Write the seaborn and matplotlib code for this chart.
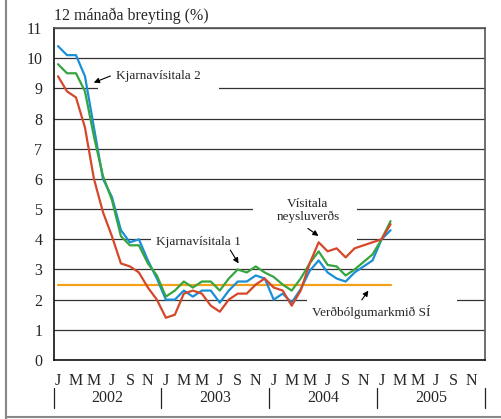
import numpy as np
import pandas as pd
import seaborn as sns
import matplotlib.pyplot as plt
from matplotlib.lines import Line2D
from matplotlib.patches import Rectangle
from matplotlib.transforms import blended_transform_factory

# ---------------------------------------------
# DATA (12 month change, %, Jan 2002 - Feb 2005)
# ---------------------------------------------
kjarna2 = [10.4, 10.1, 10.1, 9.4, 7.7, 6.0, 5.4, 4.3, 3.9, 4.0, 3.3, 2.7,
           2.0, 2.0, 2.3, 2.1, 2.3, 2.3, 1.9, 2.3, 2.6, 2.6, 2.8, 2.7,
           2.0, 2.2, 1.9, 2.35, 2.95, 3.3, 2.9, 2.7, 2.6, 2.9, 3.1, 3.3,
           4.0, 4.3]
kjarna1 = [9.8, 9.5, 9.5, 8.9, 7.4, 6.1, 5.3, 4.1, 3.8, 3.8, 3.2, 2.8,
           2.1, 2.3, 2.6, 2.4, 2.6, 2.6, 2.3, 2.7, 3.0, 2.9, 3.1, 2.9,
           2.75, 2.5, 2.3, 2.7, 3.2, 3.6, 3.15, 3.1, 2.8, 3.0, 3.25, 3.5,
           4.0, 4.6]
neysluverd = [9.4, 8.9, 8.7, 7.7, 6.0, 4.9, 4.1, 3.2, 3.1, 2.9, 2.4, 2.0,
              1.4, 1.5, 2.2, 2.3, 2.2, 1.8, 1.6, 2.0, 2.2, 2.2, 2.5, 2.7,
              2.4, 2.3, 1.8, 2.3, 3.2, 3.9, 3.6, 3.7, 3.4, 3.7, 3.8, 3.9,
              4.0, 4.5]
markmid = 2.5

man_stafir = ["J", "F", "M", "A", "M", "J", "J", "A", "S", "O", "N", "D"]
ar = ["2002", "2003", "2004", "2005"]

n = len(kjarna2)
df = pd.DataFrame({
    "man": np.arange(n),
    "k2": kjarna2,
    "k1": kjarna1,
    "vnv": neysluverd,
    "mark": [markmid] * n,
})

# ---------------------------------------------
# PLOT
# ---------------------------------------------
sns.set_style("white")
plt.rcParams["font.family"] = ["Liberation Serif", "DejaVu Serif"]

fig = plt.figure(figsize=(5.02, 4.19), dpi=100)
ax = fig.add_axes([0.1066, 0.1408, 0.8594, 0.7924])

lw = 1.6
sns.lineplot(data=df, x="man", y="mark", color="#f5a01a", lw=lw, ax=ax, zorder=3)
sns.lineplot(data=df, x="man", y="k2", color="#1a8fd6", lw=lw, ax=ax, zorder=4)
sns.lineplot(data=df, x="man", y="k1", color="#36a540", lw=lw, ax=ax, zorder=5)
sns.lineplot(data=df, x="man", y="vnv", color="#d5472a", lw=lw, ax=ax, zorder=6)

ax.set_xlim(-0.5, 47.5)
ax.set_ylim(0, 11)
ax.set_xlabel("")
ax.set_ylabel("")

# gridlines
ax.set_axisbelow(True)
ax.set_yticks(range(0, 12))
ax.yaxis.grid(True, color="#333333", lw=0.9)
ax.xaxis.grid(False)

# white gaps in the gridlines behind the labels
for x0, x1, yy in [(4.4, 17.9, 9), (10.3, 33.3, 4), (21.7, 33.3, 5), (27.7, 44.4, 2)]:
    ax.add_patch(Rectangle((x0, yy - 0.1), x1 - x0, 0.2, fc="white", ec="none", zorder=1.5))

# x ticks: every month, letters every other month
xt = list(range(48))
xl = [man_stafir[i % 12] if i % 2 == 0 else "" for i in xt]
ax.set_xticks(xt)
ax.set_xticklabels(xl, fontsize=11.5)
ax.tick_params(axis="x", direction="out", length=4, width=0.8, pad=5, color="#333333")
ax.tick_params(axis="y", direction="out", length=7, width=0.9, pad=1, labelsize=11.5,
               color="#333333")

for s in ["left", "bottom"]:
    ax.spines[s].set_color("#111111")
    ax.spines[s].set_linewidth(1.2)
for s in ["top", "right"]:
    ax.spines[s].set_color("#555555")
    ax.spines[s].set_linewidth(1.2)

# year labels and separators
tr = blended_transform_factory(ax.transData, ax.transAxes)
for k, a in enumerate(ar):
    ax.text(k * 12 + 5.5, -0.115, a, transform=tr, ha="center", va="center",
            fontsize=11.5, clip_on=False)
for k in range(5):
    ax.add_line(Line2D([k * 12 - 0.5, k * 12 - 0.5], [-0.084, -0.145], transform=tr,
                       color="#222222", lw=0.9, clip_on=False))

# title on top of axis
fig.text(0.108, 0.962, "12 mánaða breyting (%)", fontsize=11.5, ha="left", va="center")

# labels
fs = 9.5
ax.text(6.4, 9.41, "Kjarnavísitala 2", ha="left", va="center", fontsize=fs, zorder=7)
ax.text(15.6, 3.92, "Kjarnavísitala 1", ha="center", va="center", fontsize=fs, zorder=7)
ax.text(27.8, 4.95, "Vísitala\nneysluverðs", ha="center", va="center", fontsize=fs,
        linespacing=1.1, zorder=7)
ax.text(34.9, 1.6, "Verðbólgumarkmið SÍ", ha="center", va="center", fontsize=fs, zorder=7)

# arrows (tail -> head)
arr = dict(arrowstyle="-|>", color="black", lw=0.8, mutation_scale=8, shrinkA=0, shrinkB=0)
for tail, head in [((5.83, 9.41), (3.98, 9.19)),
                   ((19.17, 3.64), (20.09, 3.2)),
                   ((27.8, 4.36), (28.98, 4.11)),
                   ((33.8, 1.99), (34.53, 2.3))]:
    ax.annotate("", xy=head, xytext=tail, arrowprops=arr, zorder=7)

# outer frame pieces (left and bottom)
fig.add_artist(Line2D([6 / 502, 6 / 502], [0.0, 1.0], transform=fig.transFigure,
                      color="#888888", lw=1.5))
fig.add_artist(Line2D([6 / 502, 1.0], [2 / 419, 2 / 419], transform=fig.transFigure,
                      color="#888888", lw=1.5))

plt.savefig("out.png", dpi=100)
